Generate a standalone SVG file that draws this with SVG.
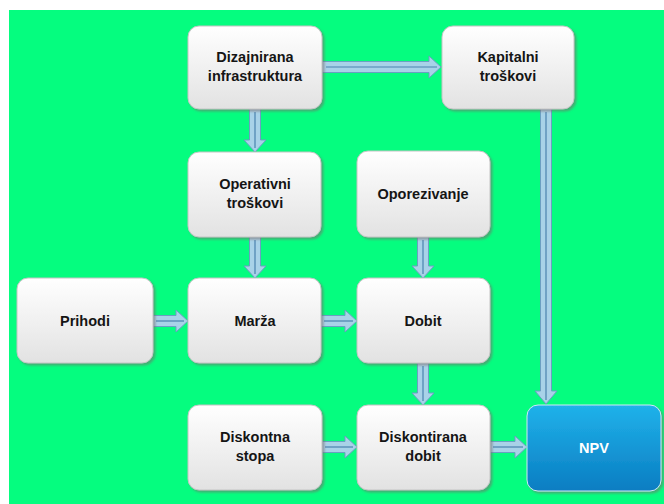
<svg xmlns="http://www.w3.org/2000/svg" width="664" height="504" viewBox="0 0 664 504">
<defs>
<linearGradient id="gw" x1="0" y1="0" x2="0" y2="1"><stop offset="0" stop-color="#ffffff"/><stop offset="1" stop-color="#e2e2e2"/></linearGradient>
<linearGradient id="gb" x1="0" y1="0" x2="0" y2="1"><stop offset="0" stop-color="#20b2ea"/><stop offset="1" stop-color="#0a7dc2"/></linearGradient>
<filter id="sh" x="-10%" y="-10%" width="125%" height="125%"><feDropShadow dx="2" dy="2" stdDeviation="1.2" flood-color="#7a6a6a" flood-opacity="0.55"/></filter>
<style>
.box{fill:url(#gw);stroke:#c4c4c4;stroke-width:1;filter:url(#sh)}
.npv{fill:url(#gb);stroke:#d0e8f5;stroke-width:1;filter:url(#sh)}
.t{font-family:"Liberation Sans",Arial,sans-serif;font-weight:bold;font-size:14.5px;fill:#151515;text-anchor:middle}
.tw{fill:#ffffff}
.ar{fill:#a8d2e8;stroke:#6b9fc2;stroke-width:1}
.al{stroke:#4a82ad;stroke-width:1.2;fill:none}
</style>
</defs>
<rect x="0" y="0" width="664" height="504" fill="#ffffff"/>
<rect x="9" y="10" width="655" height="494" fill="#05fd7f"/>

<g id="connectors">
<path class="ar" d="M322,61.5 H429 V56 L441,67 L429,78 V72.5 H322 Z"/><line class="al" x1="326" y1="67" x2="437" y2="67"/>
<path class="ar" d="M249.5,109 V140 H244 L255,152 L266,140 H260.5 V109 Z"/><line class="al" x1="255" y1="112" x2="255" y2="148"/>
<path class="ar" d="M249.5,237 V266 H244 L255,278 L266,266 H260.5 V237 Z"/><line class="al" x1="255" y1="240" x2="255" y2="274"/>
<path class="ar" d="M417.5,237 V266 H412 L423,278 L434,266 H428.5 V237 Z"/><line class="al" x1="423" y1="240" x2="423" y2="274"/>
<path class="ar" d="M153,315.5 H176 V310 L188,321 L176,332 V326.5 H153 Z"/><line class="al" x1="156" y1="321" x2="184" y2="321"/>
<path class="ar" d="M321,315.5 H345 V310 L357,321 L345,332 V326.5 H321 Z"/><line class="al" x1="324" y1="321" x2="353" y2="321"/>
<path class="ar" d="M417.5,363 V393 H412 L423,405 L434,393 H428.5 V363 Z"/><line class="al" x1="423" y1="366" x2="423" y2="401"/>
<path class="ar" d="M322,441.5 H345 V436 L357,447 L345,458 V452.5 H322 Z"/><line class="al" x1="325" y1="447" x2="353" y2="447"/>
<path class="ar" d="M490,441.5 H515 V436 L527,447 L515,458 V452.5 H490 Z"/><line class="al" x1="493" y1="447" x2="523" y2="447"/>
<path class="ar" d="M540.5,109 V391 H535 L546,404 L557,391 H551.5 V109 Z"/><line class="al" x1="546" y1="112" x2="546" y2="400"/>
</g>

<g id="dizajnirana"><rect class="box" x="188" y="26" width="134" height="83" rx="11"/><text class="t" x="255" y="62">Dizajnirana</text><text class="t" x="255" y="81">infrastruktura</text></g>
<g id="kapitalni"><rect class="box" x="442" y="26" width="132" height="83" rx="11"/><text class="t" x="508" y="62">Kapitalni</text><text class="t" x="508" y="81">troškovi</text></g>
<g id="operativni"><rect class="box" x="188" y="152" width="133" height="85" rx="11"/><text class="t" x="255" y="189">Operativni</text><text class="t" x="255" y="208">troškovi</text></g>
<g id="oporezivanje"><rect class="box" x="357" y="151" width="133" height="86" rx="11"/><text class="t" x="423" y="199">Oporezivanje</text></g>
<g id="prihodi"><rect class="box" x="17" y="278" width="136" height="85" rx="11"/><text class="t" x="85" y="326">Prihodi</text></g>
<g id="marza"><rect class="box" x="188" y="278" width="133" height="85" rx="11"/><text class="t" x="255" y="326">Marža</text></g>
<g id="dobit"><rect class="box" x="357" y="278" width="133" height="85" rx="11"/><text class="t" x="423" y="326">Dobit</text></g>
<g id="diskontna"><rect class="box" x="188" y="405" width="134" height="85" rx="11"/><text class="t" x="255" y="442">Diskontna</text><text class="t" x="255" y="461">stopa</text></g>
<g id="diskontirana"><rect class="box" x="357" y="405" width="133" height="85" rx="11"/><text class="t" x="423" y="442">Diskontirana</text><text class="t" x="423" y="461">dobit</text></g>
<g id="npv"><rect class="npv" x="527" y="405" width="134" height="86" rx="11"/><text class="t tw" x="594" y="453">NPV</text></g>
</svg>
